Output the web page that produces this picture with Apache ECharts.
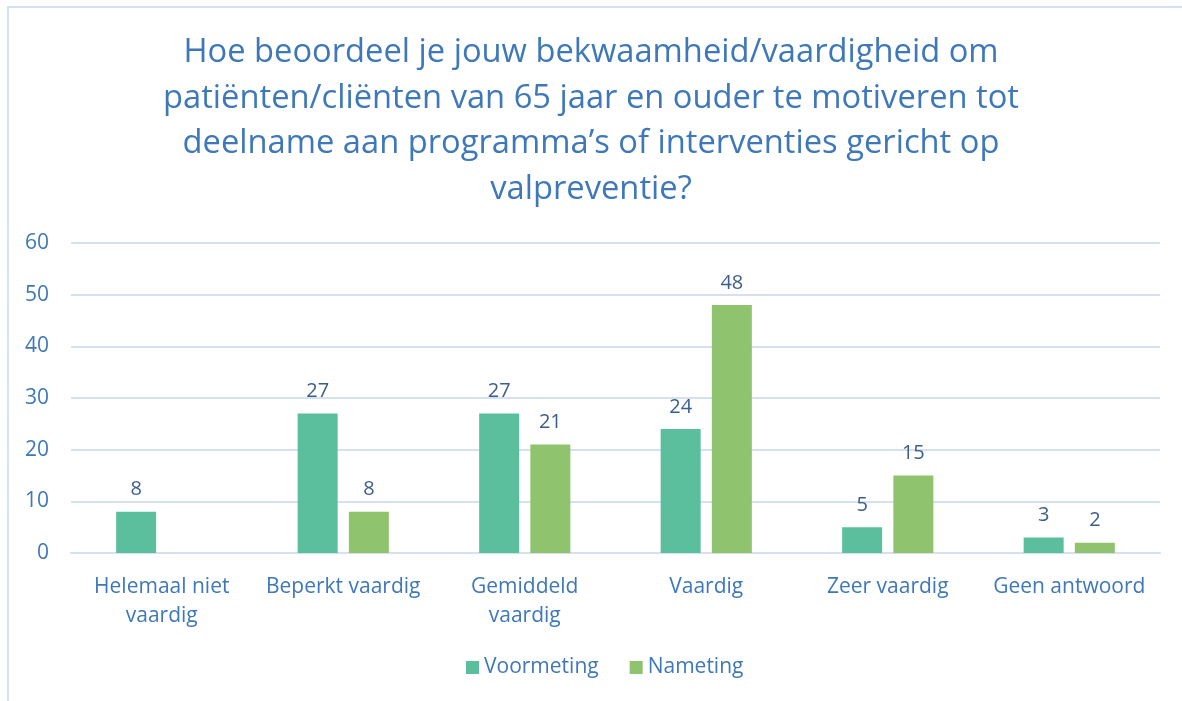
<!DOCTYPE html>
<html><head><meta charset="utf-8">
<script src="https://cdn.jsdelivr.net/npm/echarts@6/dist/echarts.min.js"></script>
<style>
html,body{margin:0;padding:0;background:#fff;}
#frame{position:absolute;left:7px;top:6px;width:1175px;height:695px;border-left:2px solid #D6E0EE;border-top:2px solid #D6E0EE;box-sizing:border-box;}
#c{position:absolute;left:0;top:0;width:1182px;height:701px;}
</style></head>
<body>
<div id="frame"></div>
<div id="c"></div>
<script>
var titleText = "Hoe beoordeel je jouw bekwaamheid/vaardigheid om\npatiënten/cliënten van 65 jaar en ouder te motiveren tot\ndeelname aan programma’s of interventies gericht op\nvalpreventie?";
var categories = ["Helemaal niet\nvaardig", "Beperkt vaardig", "Gemiddeld\nvaardig", "Vaardig", "Zeer vaardig", "Geen antwoord"];
var voormeting = [8, 27, 27, 24, 5, 3];
var nameting = [null, 8, 21, 48, 15, 2];
var seriesNames = ["Voormeting", "Nameting"];
var FONT = "Open Sans";
var chart = echarts.init(document.getElementById('c'), null, {renderer:'canvas'});
var labelStyle = {show:true, position:'top', distance:12, color:'#3B5F8A', fontSize:20, fontFamily:FONT};
chart.setOption({
  animation:false,
  backgroundColor:'transparent',
  title:{text:titleText, left:'center', top:25, textStyle:{color:'#3E78B8', fontSize:32.7, fontWeight:'normal', fontFamily:FONT, lineHeight:45.5}},
  legend:{bottom:18, left:461, itemWidth:13, itemHeight:13, itemGap:31, icon:'rect',
    textStyle:{color:'#3E78B8', fontSize:21, fontFamily:FONT}, data:seriesNames},
  grid:{left:71, right:22, top:243, bottom:148},
  xAxis:{type:'category', data:categories, axisTick:{show:false},
    axisLine:{lineStyle:{color:'#D6E0EE', width:2}},
    axisLabel:{color:'#3E78B8', fontSize:21, fontFamily:FONT, margin:20, lineHeight:29, interval:0}},
  yAxis:{type:'value', min:0, max:60, interval:10, axisLine:{show:false}, axisTick:{show:false},
    splitLine:{lineStyle:{color:'#D6E0EE', width:2}},
    axisLabel:{color:'#3E78B8', fontSize:21, fontFamily:FONT, margin:22}},
  series:[
    {name:seriesNames[0], type:'bar', data:voormeting, barWidth:40, barGap:'28%', itemStyle:{color:'#5BBF9D'}, label:labelStyle},
    {name:seriesNames[1], type:'bar', data:nameting, barWidth:40, itemStyle:{color:'#8FC36E'}, label:labelStyle}
  ]
});
</script>
</body></html>
